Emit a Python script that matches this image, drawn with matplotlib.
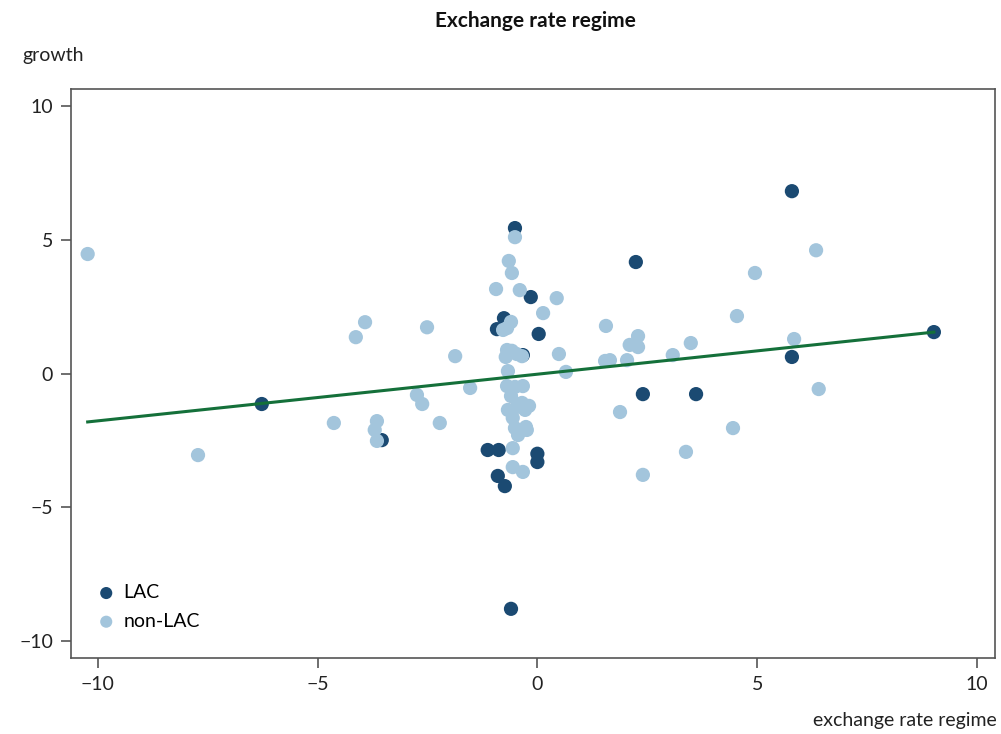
import matplotlib
matplotlib.use("Agg")
import matplotlib.pyplot as plt
import numpy as np

plt.rcParams['font.family'] = ['Lato', 'DejaVu Sans']

# LAC countries (dark)
lac_x = [5.79, -0.51, 2.24, -0.15, -0.76, -0.92, 0.03, -0.33, 9.02, 5.79, 2.40, 3.61,
         -6.27, -3.54, -1.13, -0.88, 0.00, 0.00, -0.90, -0.74, -0.60]
lac_y = [6.82, 5.44, 4.17, 2.86, 2.07, 1.66, 1.48, 0.69, 1.55, 0.62, -0.77, -0.77,
         -1.14, -2.49, -2.86, -2.86, -3.00, -3.31, -3.83, -4.21, -8.80]

# non-LAC countries (light)
non_x = [-10.23, -7.72, -3.92, -4.13, -2.51, -1.87, -1.53, -2.74, -2.62, -4.63, -3.65,
         -3.70, -3.65, -2.22,
         6.34, 4.95, 4.54, 1.56, 2.29, 2.10, 2.29, 3.49, 5.84, 3.08, 2.04, 1.65, 1.54,
         6.40, 1.88, 4.45, 3.38, 2.40,
         -0.51, -0.65, -0.58, -0.94, -0.40, 0.44, 0.13, -0.60, -0.69, -0.78, 0.49, 0.65,
         -0.69, -0.58, -0.47, -0.72, -0.35, -0.67, -0.69, -0.51, -0.33, -0.60, -0.67,
         -0.47, -0.35, -0.19, -0.56, -0.28, -0.51, -0.26, -0.44, -0.24, -0.56, -0.56, -0.33]
non_y = [4.47, -3.05, 1.92, 1.36, 1.73, 0.65, -0.54, -0.80, -1.14, -1.85, -1.78,
         -2.11, -2.52, -1.85,
         4.61, 3.76, 2.15, 1.78, 1.40, 1.07, 0.99, 1.14, 1.29, 0.69, 0.50, 0.50, 0.47,
         -0.58, -1.44, -2.04, -2.93, -3.79,
         5.10, 4.21, 3.76, 3.16, 3.12, 2.82, 2.26, 1.93, 1.70, 1.63, 0.73, 0.06,
         0.88, 0.85, 0.73, 0.62, 0.65, 0.09, -0.47, -0.50, -0.47, -0.84, -1.36,
         -1.25, -1.10, -1.21, -1.66, -1.36, -2.04, -2.00, -2.30, -2.11, -2.79, -3.50, -3.68]

# fitted regression line
fit_slope = 0.1745
fit_intercept = -0.025

x_ticks = [-10, -5, 0, 5, 10]
y_ticks = [-10, -5, 0, 5, 10]

dark = '#1b4a72'
light = '#a3c5dc'
green = '#14703a'
gray = '#555555'
fs = 14

fig = plt.figure(figsize=(10.01, 7.34), dpi=100)
ax = fig.add_axes([0.0709, 0.1035, 0.9231, 0.7752])

ax.scatter(lac_x, lac_y, s=105, color=dark, edgecolors='none', zorder=2, label='LAC')
ax.scatter(non_x, non_y, s=105, color=light, edgecolors='none', zorder=3, label='non-LAC')

allx = np.array(lac_x + non_x)
lx = np.array([allx.min(), allx.max()])
ax.plot(lx, fit_intercept + fit_slope * lx, color=green, lw=2.2, zorder=4)

ax.set_xlim(-10.61, 10.41)
ax.set_ylim(-10.64, 10.64)
ax.set_xticks(x_ticks)
ax.set_yticks(y_ticks)
ax.set_xticklabels([str(t).replace('-', '\u2212') for t in x_ticks])
ax.set_yticklabels([str(t).replace('-', '\u2212') for t in y_ticks])
ax.tick_params(direction='out', length=7, width=1.2, color=gray, labelsize=fs,
               labelcolor='#222222', pad=6)
for sp in ax.spines.values():
    sp.set_color(gray)
    sp.set_linewidth(1.2)

leg = ax.legend(loc='lower left', frameon=False, fontsize=fs, handletextpad=0.4,
                handlelength=1.0, labelspacing=0.6, bbox_to_anchor=(0.0045, 0.012),
                borderaxespad=0.7, markerscale=0.85)

fig.text(0.535, 0.972, 'Exchange rate regime', ha='center', va='center',
         fontsize=15, fontweight='bold', color='#111111')
fig.text(0.022, 0.924, 'growth', ha='left', va='center', fontsize=fs, color='#222222')
fig.text(0.996, 0.018, 'exchange rate regime', ha='right', va='center', fontsize=fs,
         color='#222222')

fig.savefig('out.png', dpi=100)
